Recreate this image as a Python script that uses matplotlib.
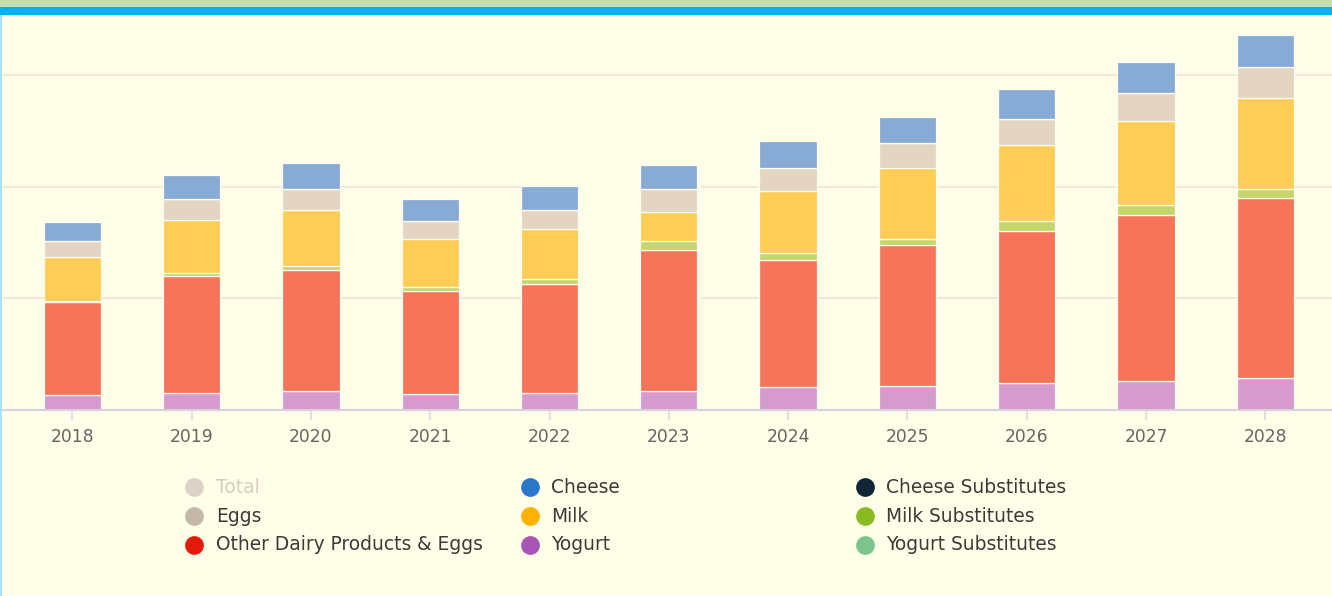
import matplotlib
matplotlib.use("Agg")
import matplotlib.pyplot as plt
from matplotlib.patches import Rectangle
import numpy as np

plt.rcParams['font.family'] = ['DejaVu Sans']

# ---------------- data ----------------
years = ["2018", "2019", "2020", "2021", "2022", "2023",
         "2024", "2025", "2026", "2027", "2028"]
yogurt_subs = [0, 0, 0, 0, 0, 0, 0, 0, 0, 0, 0]
yogurt = [1.27, 1.51, 1.69, 1.39, 1.51, 1.69, 1.99, 2.11, 2.40, 2.58, 2.85]
other_dairy = [8.37, 10.46, 10.82, 9.26, 9.72, 12.61, 11.42, 12.62, 13.64, 14.86, 16.09]
milk_subs = [0.05, 0.30, 0.36, 0.36, 0.47, 0.84, 0.60, 0.59, 0.87, 0.90, 0.84]
milk = [3.96, 4.73, 5.02, 4.28, 4.46, 2.60, 5.61, 6.37, 6.79, 7.53, 8.13]
eggs = [1.49, 1.88, 1.89, 1.62, 1.73, 2.04, 2.07, 2.18, 2.33, 2.49, 2.78]
cheese_subs = [0, 0, 0, 0, 0, 0, 0, 0, 0, 0, 0]
cheese = [1.70, 2.15, 2.30, 1.97, 2.15, 2.15, 2.39, 2.39, 2.69, 2.81, 2.88]

# stacking order bottom -> top with bar colours
stack = [
    ("Yogurt Substitutes", yogurt_subs, "#b4dfbd"),
    ("Yogurt", yogurt, "#d49bcc"),
    ("Other Dairy Products & Eggs", other_dairy, "#f6745a"),
    ("Milk Substitutes", milk_subs, "#c4d66c"),
    ("Milk", milk, "#fecd56"),
    ("Eggs", eggs, "#e3d5c2"),
    ("Cheese Substitutes", cheese_subs, "#7f8a8f"),
    ("Cheese", cheese, "#88abd6"),
]

legend_items = [
    ("Total", "#ddd2c7"), ("Eggs", "#c4b8a8"), ("Other Dairy Products & Eggs", "#e41a0a"),
    ("Cheese", "#2a76c9"), ("Milk", "#ffb000"), ("Yogurt", "#a855b5"),
    ("Cheese Substitutes", "#0f2638"), ("Milk Substitutes", "#8bbb22"),
    ("Yogurt Substitutes", "#7cc68e"),
]

# ---------------- figure ----------------
W, H = 1332, 596
BG = "#fffee9"
fig = plt.figure(figsize=(W / 100, H / 100), dpi=100, facecolor=BG)

# header strips
fig.patches.append(Rectangle((0, 1 - 7 / H), 1, 7 / H, transform=fig.transFigure,
                             facecolor="#c5dfb3", edgecolor="none", zorder=0))
fig.patches.append(Rectangle((0, 1 - 15 / H), 1, 8 / H, transform=fig.transFigure,
                             facecolor="#00b1f1", edgecolor="none", zorder=0))
fig.patches.append(Rectangle((0, 0), 1.5 / W, 1 - 15 / H, transform=fig.transFigure,
                             facecolor="#a9e3f2", edgecolor="none", zorder=0))

base_px = 409.5
top_px = 16
left_px = 3
ax = fig.add_axes([left_px / W, 1 - base_px / H, 1 - left_px / W, (base_px - top_px) / H])
ax.set_facecolor(BG)
ax.patch.set_alpha(0)

x = np.arange(len(years))
px_per_cat = 119.3
ax.set_xlim(0 - (72.3 - left_px) / px_per_cat, 10 + (W - 1265.3) / px_per_cat)
ax.set_ylim(0, (base_px - top_px) / 11.15)

# gridlines
grid_col = "#f3e4d4"
xl = ax.get_xlim()
ax.hlines(30, xl[0], xl[1], color=grid_col, lw=1.3, zorder=0)
for gy in (10, 20):
    ax.hlines(gy, xl[0], 4.24, color=grid_col, lw=1.3, zorder=0)
    ax.hlines(gy, 5.27, xl[1], color=grid_col, lw=1.3, zorder=0)

bottom = np.zeros(len(years))
bw = 57.3 / px_per_cat
for name, vals, col in stack:
    vals = np.array(vals, dtype=float)
    ax.bar(x, vals, bw, bottom=bottom, color=col, edgecolor="#fffcf0",
           linewidth=0.9, zorder=2)
    bottom += vals

for s in ("top", "right", "left"):
    ax.spines[s].set_visible(False)
ax.spines["bottom"].set_color("#d9d1dd")
ax.spines["bottom"].set_linewidth(1.5)
ax.set_yticks([])
ax.set_xticks(x)
ax.set_xticklabels(years, fontsize=12.3, color="#6b6262")
ax.tick_params(axis="x", length=7, width=1.5, color="#e4dce0", pad=6)

# legend (manual layout in pixel coords)
lax = fig.add_axes([0, 0, 1, 1])
lax.set_xlim(0, W)
lax.set_ylim(H, 0)
lax.axis("off")
cols_x = [194.3, 530, 865]
rows_y = [486.7, 515.5, 544.5]
for i, (lab, col) in enumerate(legend_items):
    cx = cols_x[i // 3]
    cy = rows_y[i % 3]
    lax.plot([cx], [cy], marker="o", markersize=13.5, color=col, markeredgewidth=0)
    tcol = "#d8cdc3" if lab == "Total" else "#3f3838"
    lax.text(cx + 21.5, cy + 0.5, lab, fontsize=13.4, color=tcol, va="center", ha="left")

fig.savefig("out.png", dpi=100, facecolor=BG)
